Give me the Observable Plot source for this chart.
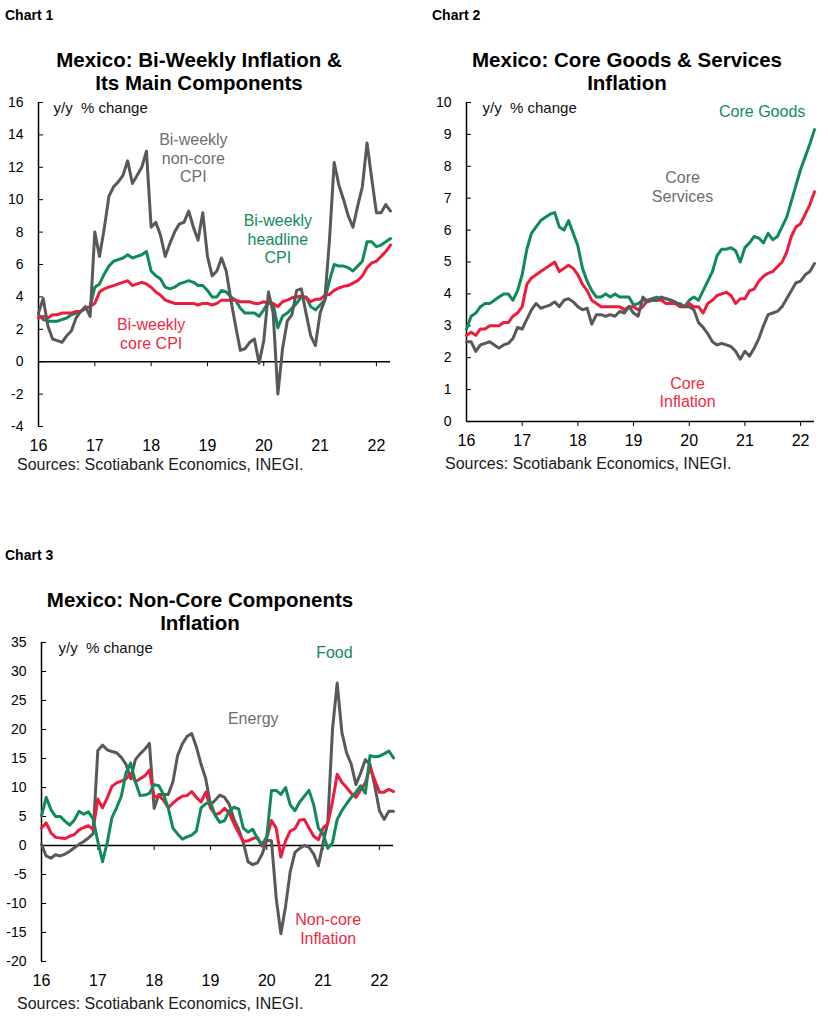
<!DOCTYPE html>
<html><head><meta charset="utf-8">
<script src="https://cdn.jsdelivr.net/npm/d3@7"></script>
<script src="https://cdn.jsdelivr.net/npm/@observablehq/plot@0.6"></script>
<style>
body{margin:0;background:#fff;width:828px;height:1023px;position:relative;font-family:"Liberation Sans",Arial,sans-serif;color:#000;}
.abs{position:absolute;}
.lbl{font-weight:bold;font-size:14px;line-height:16px;white-space:nowrap;}
.title{font-weight:bold;font-size:20.5px;line-height:23px;text-align:center;white-space:nowrap;}
.src{font-size:16px;line-height:18px;color:#1a1a1a;white-space:nowrap;}
</style></head><body>
<div class="abs lbl" style="left:5px;top:7px">Chart 1</div>
<div class="abs lbl" style="left:432px;top:7px">Chart 2</div>
<div class="abs lbl" style="left:5px;top:547px">Chart 3</div>
<div class="abs title" style="left:0px;width:398px;top:47.5px">Mexico: Bi-Weekly Inflation &amp;<br>Its Main Components</div>
<div class="abs title" style="left:427px;width:400px;top:47.5px">Mexico: Core Goods &amp; Services<br>Inflation</div>
<div class="abs title" style="left:0px;width:400px;top:587.5px">Mexico: Non-Core Components<br>Inflation</div>
<div id="c1" class="abs" style="left:0px;top:94px"></div>
<div id="c2" class="abs" style="left:420px;top:94px"></div>
<div id="c3" class="abs" style="left:0px;top:634px"></div>
<div class="abs src" style="left:17px;top:456px">Sources: Scotiabank Economics, INEGI.</div>
<div class="abs src" style="left:445px;top:455px">Sources: Scotiabank Economics, INEGI.</div>
<div class="abs src" style="left:17px;top:995px">Sources: Scotiabank Economics, INEGI.</div>
<script>
// Monthly observations, Jan 2016 .. Apr 2022 (y/y % change)
const nonCore = [
  3.0, 3.9, 2.2, 1.4, 1.3, 1.2, 1.6, 1.9, 2.7, 3.1, 3.4, 2.8,
  8.0, 6.5, 8.2, 10.2, 10.8, 11.1, 11.5, 12.4, 11.0, 11.5, 12.0, 13.0,
  8.3, 8.6, 7.8, 6.5, 7.3, 8.0, 8.5, 8.6, 9.3, 8.3, 7.5, 9.2,
  6.5, 5.3, 5.6, 6.4, 5.6, 3.8, 2.2, 0.7, 0.8, 1.2, 1.4, -0.1,
  1.3, 4.3, 3.0, -2.0, 0.8, 2.5, 2.9, 4.4, 4.5, 3.0, 1.6, 1.0,
  3.0, 3.8, 7.5, 12.3, 10.9, 10.0, 9.0, 8.3, 9.6, 10.8, 13.5, 11.3,
  9.2, 9.2, 9.7, 9.3
];
const headline = [
  2.9, 2.6, 2.5, 2.5, 2.5, 2.6, 2.7, 2.9, 3.0, 3.1, 3.3, 3.4,
  4.6, 4.8, 5.4, 5.9, 6.2, 6.3, 6.4, 6.6, 6.4, 6.5, 6.6, 6.8,
  5.6, 5.3, 5.1, 4.6, 4.5, 4.6, 4.8, 4.9, 5.0, 4.9, 4.7, 4.7,
  4.4, 4.0, 4.0, 4.4, 4.3, 4.0, 3.8, 3.3, 3.0, 3.0, 3.0, 2.8,
  3.2, 3.7, 3.6, 2.1, 2.8, 3.0, 3.3, 3.6, 4.0, 4.0, 3.4, 3.2,
  3.5, 3.8, 5.0, 6.0, 5.9, 5.9, 5.8, 5.6, 5.9, 6.2, 7.4, 7.4,
  7.1, 7.2, 7.4, 7.6
];
const core = [
  2.7, 2.8, 2.7, 2.9, 2.9, 3.0, 3.0, 3.0, 3.1, 3.1, 3.3, 3.4,
  3.6, 4.3, 4.5, 4.6, 4.7, 4.8, 4.9, 5.0, 4.7, 4.8, 4.9, 4.8,
  4.6, 4.3, 4.1, 3.8, 3.7, 3.6, 3.6, 3.6, 3.6, 3.6, 3.5, 3.6,
  3.6, 3.5, 3.6, 3.8, 3.8, 3.8, 3.8, 3.7, 3.7, 3.7, 3.6, 3.6,
  3.7, 3.6, 3.6, 3.4, 3.7, 3.8, 3.95, 4.0, 4.05, 3.95, 3.7, 3.85,
  3.85, 4.1, 4.15, 4.4, 4.55, 4.65, 4.7, 4.85, 5.0, 5.3, 5.8, 6.1,
  6.2, 6.5, 6.8, 7.2
];
const coreGoods = [
  2.9, 3.3, 3.4, 3.6, 3.7, 3.7, 3.8, 3.9, 4.0, 4.0, 3.8, 4.1,
  4.6, 5.4, 5.9, 6.1, 6.3, 6.4, 6.5, 6.55, 6.1, 6.0, 6.3, 5.9,
  5.5, 4.8, 4.4, 4.1, 3.9, 3.9, 4.0, 3.9, 4.0, 3.9, 3.9, 3.9,
  3.65, 3.7, 3.8, 3.8, 3.85, 3.9, 3.85, 3.85, 3.8, 3.7, 3.7, 3.6,
  3.8, 3.9, 3.8, 4.1, 4.4, 4.7, 5.2, 5.4, 5.4, 5.45, 5.35, 5.0,
  5.45, 5.6, 5.8, 5.75, 5.6, 5.9, 5.7, 5.8, 6.1, 6.4, 6.9, 7.4,
  7.9, 8.3, 8.7, 9.15
];
const coreServices = [
  2.5, 2.5, 2.2, 2.4, 2.45, 2.5, 2.4, 2.3, 2.4, 2.45, 2.6, 2.95,
  2.9, 3.2, 3.5, 3.7, 3.55, 3.6, 3.65, 3.75, 3.6, 3.8, 3.85, 3.75,
  3.6, 3.5, 3.55, 3.05, 3.35, 3.35, 3.3, 3.35, 3.3, 3.45, 3.4, 3.6,
  3.4, 3.3, 3.9, 3.75, 3.8, 3.8, 3.9, 3.85, 3.8, 3.75, 3.65, 3.6,
  3.6, 3.5, 3.1, 2.95, 2.75, 2.5, 2.4, 2.45, 2.4, 2.35, 2.2, 1.95,
  2.2, 2.05, 2.3, 2.6, 3.0, 3.35, 3.4, 3.45, 3.6, 3.85, 4.1, 4.35,
  4.4, 4.6, 4.7, 4.95
];
const energy = [
  0.2, -1.8, -2.2, -1.6, -1.8, -1.5, -1.0, -0.4, 0.2, 0.7, 1.3, 2.0,
  16.4, 17.3, 16.5, 16.2, 16.0, 15.2, 14.0, 11.5, 14.8, 15.8, 16.6, 17.6,
  6.4, 8.8, 8.8, 8.8, 11.0, 15.5, 17.5, 18.8, 19.3, 17.0, 14.0, 11.5,
  7.0, 7.8, 8.7, 8.3, 7.1, 4.5, 2.8, 0.5, -2.8, -3.3, -3.0, -1.5,
  0.9, 0.8, -9.0, -15.2, -10.5, -4.5, -1.2, -0.5, 0.0, -0.3, -1.5, -3.5,
  0.5, 4.0, 20.0, 28.0, 19.5, 16.0, 14.0, 10.5, 12.5, 14.8, 14.0, 10.3,
  6.0, 4.5, 5.9, 5.9
];
const food = [
  5.1, 8.3, 6.2, 5.0, 5.0, 4.2, 3.5, 4.4, 5.9, 5.4, 5.8, 4.6,
  0.7, -2.8, 0.5, 4.8, 6.5, 8.5, 12.5, 14.2, 11.0, 8.6, 8.7, 9.0,
  10.5, 10.3, 8.8, 6.5, 3.0, 2.0, 1.1, 1.5, 1.8, 2.5, 6.5, 7.2,
  7.5, 5.2, 4.0, 4.3, 6.0, 6.6, 6.3, 3.0, 2.3, 2.8, 1.2, 0.2,
  1.5, 9.5, 9.5, 8.8, 10.0, 7.0, 6.0, 7.5, 8.5, 9.5, 7.0, 3.0,
  2.0, -0.5, 0.5, 4.5, 6.0, 7.2, 8.3, 9.2, 10.3, 9.0, 15.5, 15.3,
  15.4, 15.8, 16.3, 15.1
];
const yearTicks = [2016, 2017, 2018, 2019, 2020, 2021, 2022];
const yTicks1 = [-4, -2, 0, 2, 4, 6, 8, 10, 12, 14, 16];
const yTicks2 = [0, 1, 2, 3, 4, 5, 6, 7, 8, 9, 10];
const yTicks3 = [-20, -15, -10, -5, 0, 5, 10, 15, 20, 25, 30, 35];

const t = nonCore.map((_, i) => 2016 + i / 12);
const rows = arr => arr.map((v, i) => ({t: t[i], v}));

const GREY = "#595959", GREEN = "#0f8a5a", RED = "#ee1c3c";
const GREY_T = "#6e6e6e", GREEN_T = "#138a5c", RED_T = "#ee2a45";
const FONT = "'Liberation Sans', Arial, sans-serif";

function makeChart({width, marginLeft, marginRight, innerH, yDomain, yTicks, series, labels, yyDx}) {
  const marginTop = 8, marginBottom = 32;
  const innerW = width - marginLeft - marginRight;
  const marks = [
    Plot.ruleY([0], {stroke: "#000", strokeWidth: 1.5}),
    Plot.ruleX([2016], {stroke: "#000", strokeWidth: 1.5}),
    Plot.tickY(yTicks, {y: d => d, insetRight: innerW - 5, stroke: "#000", strokeWidth: 1}),
    Plot.ruleX(yearTicks.slice(1), {x: d => d, y1: 0, y2: 0, insetBottom: -5, stroke: "#000", strokeWidth: 1}),
    Plot.axisY({ticks: yTicks, tickSize: 0, tickPadding: 15, fontSize: 14, label: null, tickFormat: d => String(d)}),
    Plot.axisX({ticks: yearTicks, tickSize: 0, tickPadding: 13, fontSize: 16, label: null, tickFormat: d => String(d).slice(2)}),
    ...series.map(s => Plot.line(rows(s.data), {x: "t", y: "v", stroke: s.color, strokeWidth: 3, strokeLinejoin: "round", strokeLinecap: "round"})),
    Plot.text(["y/y\u00a0\u00a0% change"], {text: d => d, frameAnchor: "top-left", dx: yyDx, dy: 6, textAnchor: "start", lineAnchor: "middle", fontSize: 15, fill: "#111"}),
    ...labels.map(l => Plot.text([l.text], {text: d => d, x: l.x, y: l.y, fill: l.color, fontSize: 16, lineHeight: 1.16, textAnchor: "middle", lineAnchor: "middle"}))
  ];
  return Plot.plot({
    width, height: marginTop + innerH + marginBottom,
    marginLeft, marginRight, marginTop, marginBottom,
    x: {domain: [2016, 2022.25]},
    y: {domain: yDomain},
    style: {fontFamily: FONT, fontSize: "14px", color: "#000", background: "transparent", overflow: "visible"},
    marks
  });
}

document.getElementById("c1").appendChild(makeChart({
  width: 400, marginLeft: 38, marginRight: 10, innerH: 324, yDomain: [-4, 16], yTicks: yTicks1, yyDx: 15,
  series: [
    {data: headline, color: GREEN},
    {data: core, color: RED},
    {data: nonCore, color: GREY}
  ],
  labels: [
    {text: "Bi-weekly\nnon-core\nCPI", x: 2018.75, y: 12.6, color: GREY_T},
    {text: "Bi-weekly\nheadline\nCPI", x: 2020.25, y: 7.6, color: GREEN_T},
    {text: "Bi-weekly\ncore CPI", x: 2018.0, y: 1.75, color: RED_T}
  ]
}));

document.getElementById("c2").appendChild(makeChart({
  width: 408, marginLeft: 46, marginRight: 14, innerH: 319, yDomain: [0, 10], yTicks: yTicks2, yyDx: 16,
  series: [
    {data: coreGoods, color: GREEN},
    {data: core, color: RED},
    {data: coreServices, color: GREY}
  ],
  labels: [
    {text: "Core Goods", x: 2021.31, y: 9.72, color: GREEN_T},
    {text: "Core\nServices", x: 2019.88, y: 7.37, color: GREY_T},
    {text: "Core\nInflation", x: 2019.97, y: 0.92, color: RED_T}
  ]
}));

document.getElementById("c3").appendChild(makeChart({
  width: 400, marginLeft: 41, marginRight: 7, innerH: 319, yDomain: [-20, 35], yTicks: yTicks3, yyDx: 17,
  series: [
    {data: energy, color: GREY},
    {data: nonCore, color: RED},
    {data: food, color: GREEN}
  ],
  labels: [
    {text: "Food", x: 2021.2, y: 33.3, color: GREEN_T},
    {text: "Energy", x: 2019.76, y: 21.9, color: GREY_T},
    {text: "Non-core\nInflation", x: 2021.09, y: -14.3, color: RED_T}
  ]
}));
</script>
</body></html>
